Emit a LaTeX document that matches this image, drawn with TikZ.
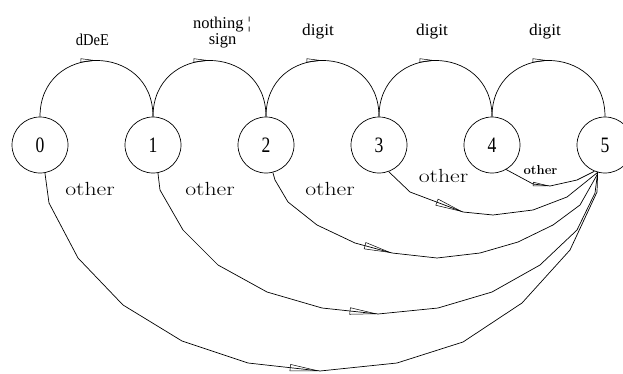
\documentclass[tikz,border=0pt]{standalone}
\usepackage{fontspec}
\usepackage{graphicx}
\newfontfamily\labfont{Liberation Serif}
\usetikzlibrary{arrows.meta,decorations.markings}
\newcommand{\toplab}[2][0.92]{\labfont\fontsize{16.5}{16.5}\selectfont\scalebox{#1}[1]{#2}}
\newcommand{\numlab}[1]{\labfont\fontsize{22}{22}\selectfont\scalebox{0.8}[1]{#1}}
\newcommand{\widelab}[1]{\fontsize{19}{19}\selectfont\scalebox{1.25}[1]{#1}}
\tikzset{
  state/.style={circle, draw, minimum size=56pt, inner sep=0pt, line width=0.7pt},
  edge/.style={line width=0.7pt},
  lbl/.style={inner sep=0pt, anchor=base},
  biglbl/.style={lbl},
  smalllbl/.style={lbl, font=\bfseries\fontsize{13}{13}\selectfont},
  mid/.style n args={3}{postaction={decorate}, decoration={markings,
      mark=at position #1 with {\arrow{Triangle[open,length=#2,width=#3,line width=0.5pt]}}}}
}
\begin{document}
\begin{tikzpicture}[x=1pt,y=1pt]
\clip (0,0) rectangle (623,373);
% states
\node[state] (n0) at (40,228) {\numlab{0}};
\node[state] (n1) at (153,228) {\numlab{1}};
\node[state] (n2) at (266,228) {\numlab{2}};
\node[state] (n3) at (379,228) {\numlab{3}};
\node[state] (n4) at (492,228) {\numlab{4}};
\node[state] (n5) at (605,228) {\numlab{5}};
% top labels
\node[lbl] (t01) at (92.5,327) {\toplab[0.88]{dDeE}};
\node[lbl] (t12a) at (222,344) {\toplab[1.0]{nothing ¦}};
\node[lbl] (t12b) at (222.5,328) {\toplab[1.0]{sign}};
\node[lbl] (t23) at (318,337) {\toplab[1.05]{digit}};
\node[lbl] (t34) at (432,337) {\toplab[1.05]{digit}};
\node[lbl] (t45) at (545,337) {\toplab[1.05]{digit}};
% bottom labels
\node[biglbl] (o0) at (90,178) {\widelab{other}};
\node[biglbl] (o1) at (210,178) {\widelab{other}};
\node[biglbl] (o2) at (330,178) {\widelab{other}};
\node[biglbl] (o3) at (443.5,191) {\widelab{other}};
\node[smalllbl] (o4) at (540.5,199) {other};
% top edges
\draw[edge, mid={0.5}{16pt}{4pt}] (n0.north) to[out=90,in=90,looseness=1.70] (n1.north);
\draw[edge, mid={0.5}{16pt}{4pt}] (n1.north) to[out=90,in=90,looseness=1.70] (n2.north);
\draw[edge, mid={0.5}{16pt}{4pt}] (n2.north) to[out=90,in=90,looseness=1.70] (n3.north);
\draw[edge, mid={0.5}{16pt}{4pt}] (n3.north) to[out=90,in=90,looseness=1.70] (n4.north);
\draw[edge, mid={0.5}{16pt}{4pt}] (n4.north) to[out=90,in=90,looseness=1.70] (n5.north);
% bottom edges (polygonal arcs, as in the reference)
\draw[edge, mid={368.5pt}{30pt}{7pt}] (n0.-80) -- (49,170) -- (78,115) -- (123,68) -- (182,32)
  -- (248,10) -- (320,2) -- (397,10) -- (463,31) -- (522,70) -- (570,123) -- (597,181) -- (n5.-105);
\draw[edge, mid={282pt}{28pt}{7pt}] (n1.-80) -- (160,183) -- (183,143) -- (218,108) -- (267,81)
  -- (322,65) -- (378,59) -- (438,65) -- (492,81) -- (540,108) -- (577,143) -- (595,180) -- (n5.-105);
\draw[edge, mid={150.5pt}{28pt}{7pt}] (n2.-76) -- (275,193) -- (288,171) -- (317,148) -- (355,130)
  -- (392,120) -- (437,115) -- (480,120) -- (518,131) -- (553,148) -- (580,168) -- (597,198) -- (n5.-105);
\draw[edge, mid={86pt}{28pt}{7pt}] (n3.-70) -- (410,181) -- (463,161) -- (493,158) -- (533,163)
  -- (567,176) -- (n5.-105);
\draw[edge, mid={47.5pt}{17pt}{4pt}] (n4.-60) -- (533,189) -- (550,187) -- (577,193) -- (n5.-112);
\end{tikzpicture}
\end{document}
